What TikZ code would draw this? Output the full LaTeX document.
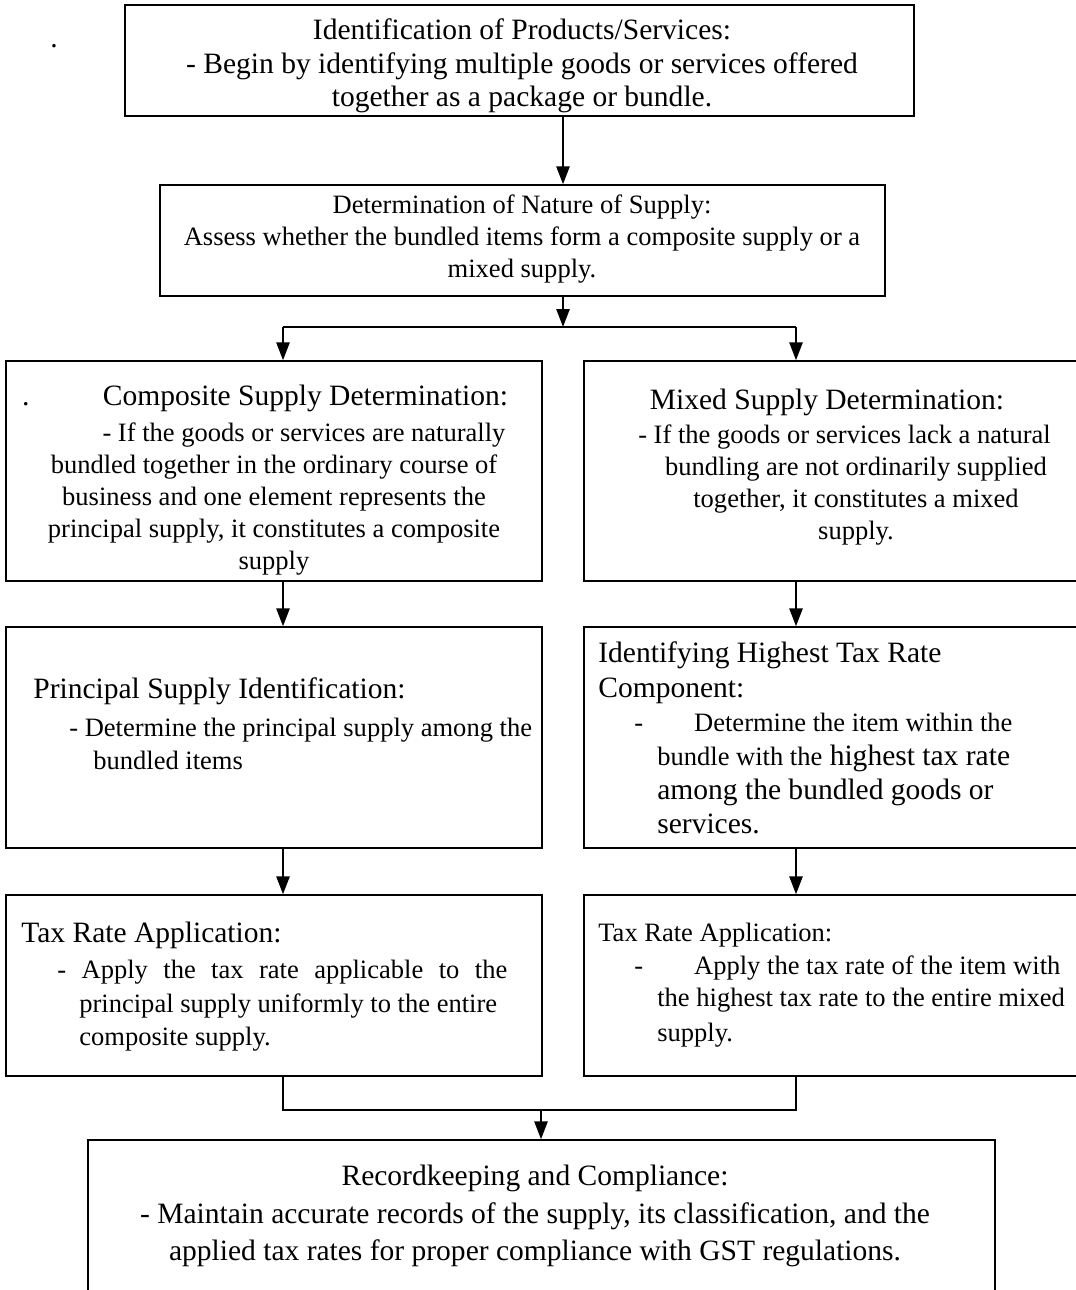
\documentclass[tikz,border=0pt]{standalone}
\usepackage{fontspec}
\setmainfont{Liberation Serif}
\usetikzlibrary{arrows.meta}
\newcommand\szbig{\fontsize{16.8}{19}\selectfont}
\newcommand\szsm{\fontsize{15.1}{18.2}\selectfont}

\begin{document}
\begin{tikzpicture}[x=0.02cm, y=-0.02cm,
  box/.style={draw, line width=0.75pt, inner sep=0pt},
  txt/.style={inner sep=0pt},
  arr/.style={line width=1.5pt, -{Triangle[length=3.6mm, width=2.6mm]}},
  link/.style={line width=0.75pt}]
\useasboundingbox (0,0) rectangle (1075,1290);
\node[box, minimum width=15.78cm, minimum height=2.22cm] (ident) at (519.5,60.5) {};
\node[box, minimum width=14.5cm, minimum height=2.22cm] (nature) at (522.5,240.5) {};
\node[box, minimum width=10.72cm, minimum height=4.4cm] (comp) at (274,471) {};
\node[box, minimum width=9.88cm, minimum height=4.4cm] (mixed) at (831,471) {};
\node[box, minimum width=10.72cm, minimum height=4.42cm] (princ) at (274,737.5) {};
\node[box, minimum width=9.88cm, minimum height=4.42cm] (highest) at (831,737.5) {};
\node[box, minimum width=10.72cm, minimum height=3.62cm] (taxl) at (274,985.5) {};
\node[box, minimum width=9.88cm, minimum height=3.62cm] (taxr) at (831,985.5) {};
\node[box, minimum width=18.14cm, minimum height=4cm] (record) at (541.5,1240) {};
\node[txt, font=\szbig, anchor=base west] (dot) at (50,48) {.};
\node[txt, font=\fontsize{16.8}{19.06}\selectfont, align=center, anchor=north] (ident-txt) at (522,18.8) {Identification of Products/Services:\\- Begin by identifying multiple goods or services offered\\together as a package or bundle.};
\node[txt, font=\szsm, align=center, anchor=north] (nature-txt) at (522,194.9) {Determination of Nature of Supply:\\Assess whether the bundled items form a composite supply or a\\mixed supply.};
\node[txt, font=\szsm, align=center, anchor=north] (comp-txt) at (274,384.7) {{\szbig .\hspace{1.47cm}Composite Supply Determination:\hspace{0.36cm}\null}\\[2.3pt]\hspace*{1.2cm}- If the goods or services are naturally\\bundled together in the ordinary course of\\business and one element represents the\\principal supply, it constitutes a composite\\supply};
\node[txt, font=\szsm, align=center, anchor=north] (mixed-txt) at (856,388.7) {{\szbig Mixed Supply Determination:\hspace{1.16cm}\null}\\[1.1pt]- If the goods or services lack a natural\hspace{0.46cm}\null\\bundling are not ordinarily supplied\\together, it constitutes a mixed\\supply.};
\node[txt, font=\fontsize{15.1}{18.8}\selectfont, align=left, anchor=north west] (princ-txt) at (33,677.8) {{\szbig Principal Supply Identification:}\\[2.3pt]\hspace*{0.72cm}- Determine the principal supply among the\\\hspace*{1.2cm}bundled items};
\node[txt, font=\fontsize{16.8}{19.4}\selectfont, align=left, anchor=north west] (highest-txt) at (598,641.8) {Identifying Highest Tax Rate\\Component:\\{\szsm\hspace*{0.72cm}-\hspace{1.02cm}Determine the item within the}\\\hspace*{1.18cm}{\szsm bundle with the} highest tax rate\\\hspace*{1.18cm}among the bundled goods or\\\hspace*{1.18cm}services.};
\node[txt, font=\fontsize{15.1}{19.1}\selectfont, align=left, anchor=north west] (taxl-txt) at (21,921.8) {{\szbig Tax Rate Application:}\\[1.4pt]\hspace*{0.72cm}\makebox[9cm][s]{- Apply the tax rate applicable to the}\\\hspace*{1.16cm}principal supply uniformly to the entire\\\hspace*{1.16cm}composite supply.};
\node[txt, font=\fontsize{15.1}{18.5}\selectfont, align=left, anchor=north west] (taxr-txt) at (598,922.9) {Tax Rate Application:\\\hspace*{0.72cm}-\hspace{1.02cm}Apply the tax rate of the item with\\\hspace*{1.18cm}the highest tax rate to the entire mixed\\[1.1pt]\hspace*{1.18cm}supply.};
\node[txt, font=\fontsize{16.8}{21.3}\selectfont, align=center, anchor=north] (record-txt) at (535,1164.8) {Recordkeeping and Compliance:\\- Maintain accurate records of the supply, its classification, and the\\applied tax rates for proper compliance with GST regulations.};
\coordinate (cl) at (283,0);
\coordinate (cr) at (796,0);
\coordinate (fork) at (563,327);
\coordinate (join) at (541,1110);
\draw[arr] (ident.south -| fork) -- (nature.north -| fork);
\draw[arr] (nature.south -| fork) -- (fork);
\draw[link] (fork -| cl) -- (fork -| cr);
\draw[arr] (fork -| cl) -- (comp.north -| cl);
\draw[arr] (fork -| cr) -- (mixed.north -| cr);
\draw[arr] (comp.south -| cl) -- (princ.north -| cl);
\draw[arr] (mixed.south -| cr) -- (highest.north -| cr);
\draw[arr] (princ.south -| cl) -- (taxl.north -| cl);
\draw[arr] (highest.south -| cr) -- (taxr.north -| cr);
\draw[link] (taxl.south -| cl) |- (join) -| (taxr.south -| cr);
\draw[arr] (join) -- (record.north -| join);
\end{tikzpicture}
\end{document}
